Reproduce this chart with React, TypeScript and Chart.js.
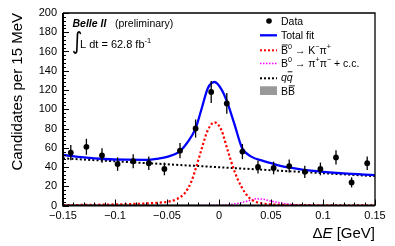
import React, { useEffect, useRef } from "react";
import { Chart, registerables } from "chart.js";

Chart.register(...registerables);

const FONT = "'Liberation Sans', Arial, Helvetica, sans-serif";

// Data points (15 MeV bins)
const binCenters = [-0.1425, -0.1275, -0.1125, -0.0975, -0.0825, -0.0675, -0.0525, -0.0375, -0.0225, -0.0075, 0.0075, 0.0225, 0.0375, 0.0525, 0.0675, 0.0825, 0.0975, 0.1125, 0.1275, 0.1425];
const counts = [55, 61, 52, 43, 46, 44, 38, 57, 80, 118, 106, 56, 40, 39, 41, 35, 38, 50, 24, 44];
const countErrors = [7.9, 8.3, 7.6, 7.0, 7.2, 7.0, 6.6, 8.0, 9.4, 11.4, 10.8, 7.9, 6.7, 6.6, 6.8, 6.3, 6.6, 7.5, 5.2, 7.0];

// Total fit
const totalFitX = [-0.15, -0.13, -0.11, -0.09, -0.07, -0.06, -0.049, -0.0372, -0.03, -0.0224, -0.017, -0.0106, -0.0042, 0.0022, 0.0077, 0.015, 0.0221, 0.031, 0.0423, 0.05, 0.06, 0.07, 0.08, 0.1, 0.12, 0.15];
const totalFitY = [52.5, 50, 48.3, 47.6, 47.5, 48.5, 50.8, 56.8, 66, 80.4, 99.5, 122, 128.3, 121, 108, 84, 60, 50.8, 46.4, 44, 41, 39, 37.3, 35, 33.3, 31.5];

// B0bar -> K- pi+ component
const signalX = [-0.15, -0.13, -0.11, -0.09, -0.07, -0.06, -0.05, -0.041, -0.033, -0.0266, -0.0218, -0.017, -0.0106, -0.0043, 0.0022, 0.0087, 0.015, 0.0215, 0.028, 0.0343, 0.0407, 0.05, 0.06, 0.07, 0.09, 0.12, 0.15];
const signalY = [0.4, 0.6, 0.9, 1.4, 2.1, 2.8, 3.8, 6.5, 12.7, 24.8, 40.4, 57.8, 78.6, 86.4, 78.6, 56, 35.2, 19.6, 9.2, 4.2, 2.3, 1.2, 0.7, 0.45, 0.3, 0.2, 0.15];

// B0 -> pi+ pi- component
const pipiX = [-0.02, 0, 0.01, 0.02, 0.03, 0.036, 0.043, 0.05, 0.06, 0.07, 0.08, 0.09, 0.1];
const pipiY = [0, 0.2, 0.9, 2.6, 5.4, 6.9, 6.4, 4.6, 2.5, 1.1, 0.4, 0.1, 0];

// continuum qqbar
const qqX = [-0.15, 0.15];
const qqY = [49, 30.5];

// BBbar
const bbX = [-0.15, 0, 0.15];
const bbY = [1.2, 0.9, 0.6];

const xTickValues = [-0.15, -0.1, -0.05, 0, 0.05, 0.1, 0.15];
const xTickLabels = ["\u22120.15", "\u22120.1", "\u22120.05", "0", "0.05", "0.1", "0.15"];
const yTickValues = [0, 20, 40, 60, 80, 100, 120, 140, 160, 180, 200];
const yTickLabels = ["0", "20", "40", "60", "80", "100", "120", "140", "160", "180", "200"];

const toXY = (xs: number[], ys: number[]) => xs.map((x, i) => ({ x, y: ys[i] }));

type Part = { t: string; sup?: boolean; over?: boolean; italic?: boolean; bold?: boolean };

function drawRich(ctx: CanvasRenderingContext2D, x: number, yBase: number, parts: Part[], size: number) {
  let cx = x;
  for (const p of parts) {
    const fs = p.sup ? size * 0.68 : size;
    ctx.font = `${p.italic ? "italic " : ""}${p.bold ? "bold " : ""}${fs}px ${FONT}`;
    const yy = p.sup ? yBase - size * 0.48 : yBase;
    ctx.fillText(p.t, cx, yy);
    const w = ctx.measureText(p.t).width;
    if (p.over) {
      ctx.save();
      ctx.lineWidth = 0.9;
      ctx.setLineDash([]);
      ctx.beginPath();
      ctx.moveTo(cx + 0.8, yy - size * 0.86);
      ctx.lineTo(cx + w - 0.3, yy - size * 0.86);
      ctx.stroke();
      ctx.restore();
    }
    cx += w;
  }
  return cx;
}

const rootPlugin = {
  id: "rootStyle",
  afterDatasetsDraw(chart: any) {
    const { ctx, chartArea: ca, scales } = chart;
    const xs = scales.x;
    const ys = scales.y;
    ctx.save();
    ctx.strokeStyle = "#000";
    ctx.fillStyle = "#000";

    // error bars
    ctx.lineWidth = 1.3;
    binCenters.forEach((c: number, i: number) => {
      const px = xs.getPixelForValue(c);
      const y1 = ys.getPixelForValue(counts[i] - countErrors[i]);
      const y2 = ys.getPixelForValue(counts[i] + countErrors[i]);
      ctx.beginPath();
      ctx.moveTo(px, y1);
      ctx.lineTo(px, y2);
      ctx.stroke();
    });

    // frame
    ctx.lineWidth = 1.3;
    ctx.beginPath();
    ctx.moveTo(ca.left, ca.top);
    ctx.lineTo(ca.right, ca.top);
    ctx.lineTo(ca.right, ca.bottom);
    ctx.stroke();
    ctx.lineWidth = 2;
    ctx.beginPath();
    ctx.moveTo(ca.left, ca.top);
    ctx.lineTo(ca.left, ca.bottom);
    ctx.lineTo(ca.right, ca.bottom);
    ctx.stroke();

    // inward ticks
    ctx.lineWidth = 1;
    for (let k = -15; k <= 15; k++) {
      const v = k / 100;
      const px = Math.round(xs.getPixelForValue(v)) + 0.5;
      const major = k % 5 === 0;
      ctx.beginPath();
      ctx.moveTo(px, ca.bottom);
      ctx.lineTo(px, ca.bottom - (major ? 6 : 3));
      ctx.stroke();
    }
    for (let v = 0; v <= 200; v += 4) {
      const py = Math.round(ys.getPixelForValue(v)) + 0.5;
      const major = v % 20 === 0;
      ctx.beginPath();
      ctx.moveTo(ca.left, py);
      ctx.lineTo(ca.left + (major ? 6 : 3), py);
      ctx.stroke();
    }

    // x axis title
    ctx.textBaseline = "alphabetic";
    ctx.textAlign = "left";
    const tsize = 15;
    const titleParts: Part[] = [{ t: "\u0394" }, { t: "E", italic: true }, { t: " [GeV]" }];
    let tw = 0;
    for (const p of titleParts) {
      ctx.font = `${p.italic ? "italic " : ""}${tsize}px ${FONT}`;
      tw += ctx.measureText(p.t).width;
    }
    drawRich(ctx, ca.right - tw, 237.5, titleParts, tsize);

    // annotation
    const asz = 10.5;
    drawRich(ctx, 72.5, 27.3, [{ t: "Belle II", italic: true, bold: true }], asz);
    drawRich(ctx, 115, 27.3, [{ t: "(preliminary)" }], asz);
    // integral sign
    ctx.save();
    ctx.font = `20px 'DejaVu Sans', ${FONT}`;
    const m = ctx.measureText("\u222B");
    const gh = m.actualBoundingBoxAscent + m.actualBoundingBoxDescent;
    const sc = 25 / gh;
    ctx.translate(72, 30);
    ctx.scale(1, sc);
    ctx.textBaseline = "alphabetic";
    ctx.fillText("\u222B", 0, m.actualBoundingBoxAscent);
    ctx.restore();
    drawRich(ctx, 80, 48.3, [{ t: "L dt = 62.8 fb" }, { t: "-1", sup: true }], 11);

    // legend
    const lx0 = 260, lx1 = 277, tx = 281, lsz = 10.5;
    const rows = [21, 35.3, 50.3, 63.5, 78.3, 90.7];
    // Data
    ctx.beginPath();
    ctx.arc(269, rows[0], 2.8, 0, Math.PI * 2);
    ctx.fill();
    // Total fit
    ctx.lineWidth = 2.3;
    ctx.strokeStyle = "#0000ff";
    ctx.beginPath(); ctx.moveTo(lx0, rows[1]); ctx.lineTo(lx1, rows[1]); ctx.stroke();
    // red
    ctx.strokeStyle = "#ff0000";
    ctx.lineWidth = 2;
    ctx.setLineDash([2, 2]);
    ctx.beginPath(); ctx.moveTo(lx0, rows[2]); ctx.lineTo(lx1, rows[2]); ctx.stroke();
    // magenta
    ctx.strokeStyle = "#ff00ff";
    ctx.lineWidth = 1.5;
    ctx.setLineDash([1.5, 1.5]);
    ctx.beginPath(); ctx.moveTo(lx0, rows[3]); ctx.lineTo(lx1, rows[3]); ctx.stroke();
    // qq
    ctx.strokeStyle = "#000";
    ctx.lineWidth = 2;
    ctx.setLineDash([2, 2]);
    ctx.beginPath(); ctx.moveTo(lx0, rows[4]); ctx.lineTo(lx1, rows[4]); ctx.stroke();
    ctx.setLineDash([]);
    // BB box
    ctx.fillStyle = "#999999";
    ctx.fillRect(lx0, 86.3, lx1 - lx0, 8.7);
    ctx.fillStyle = "#000";
    ctx.strokeStyle = "#000";

    const off = 3.7;
    drawRich(ctx, tx, rows[0] + off, [{ t: "Data" }], lsz);
    drawRich(ctx, tx, rows[1] + off, [{ t: "Total fit" }], lsz);
    drawRich(ctx, tx, rows[2] + off, [{ t: "B", over: true }, { t: "0", sup: true }, { t: " \u2192 K" }, { t: "\u2212", sup: true }, { t: "\u03C0" }, { t: "+", sup: true }], lsz);
    drawRich(ctx, tx, rows[3] + off, [{ t: "B" }, { t: "0", sup: true }, { t: " \u2192 \u03C0" }, { t: "+", sup: true }, { t: "\u03C0" }, { t: "\u2212", sup: true }, { t: " + c.c." }], lsz);
    drawRich(ctx, tx, rows[4] + 2.5, [{ t: "q", italic: true }, { t: "q", italic: true, over: true }], lsz);
    drawRich(ctx, tx, rows[5] + off + 0.5, [{ t: "B" }, { t: "B", over: true }], lsz);

    ctx.restore();
  },
};

export default function App() {
  const ref = useRef<HTMLCanvasElement | null>(null);
  useEffect(() => {
    if (!ref.current) return;
    const tickFont = { family: FONT, size: 11 };
    const chart = new Chart(ref.current, {
      type: "scatter",
      data: {
        datasets: [
          {
            label: "Data",
            data: toXY(binCenters, counts),
            pointRadius: 2.9,
            pointBackgroundColor: "#000",
            pointBorderWidth: 0,
            showLine: false,
            order: 0,
          },
          {
            label: "Total fit",
            data: toXY(totalFitX, totalFitY),
            showLine: true,
            borderColor: "#0000ff",
            borderWidth: 2.3,
            pointRadius: 0,
            cubicInterpolationMode: "monotone",
            order: 1,
          },
          {
            label: "B0bar -> K pi",
            data: toXY(signalX, signalY),
            showLine: true,
            borderColor: "#ff0000",
            borderWidth: 2.2,
            borderDash: [2.2, 2.2],
            pointRadius: 0,
            cubicInterpolationMode: "monotone",
            order: 2,
          },
          {
            label: "B0 -> pi pi",
            data: toXY(pipiX, pipiY),
            showLine: true,
            borderColor: "#ff00ff",
            borderWidth: 1.5,
            borderDash: [1.5, 1.5],
            pointRadius: 0,
            cubicInterpolationMode: "monotone",
            order: 3,
          },
          {
            label: "qq",
            data: toXY(qqX, qqY),
            showLine: true,
            borderColor: "#000",
            borderWidth: 2,
            borderDash: [2, 2.2],
            pointRadius: 0,
            order: 4,
          },
          {
            label: "BB",
            data: toXY(bbX, bbY),
            showLine: true,
            borderColor: "#999999",
            borderWidth: 0,
            backgroundColor: "#999999",
            fill: "origin",
            pointRadius: 0,
            order: 5,
          },
        ],
      },
      options: {
        responsive: false,
        animation: false,
        events: [],
        layout: { padding: { top: 13, right: 20, left: 0, bottom: 0 } },
        plugins: {
          legend: { display: false },
          tooltip: { enabled: false },
        },
        scales: {
          x: {
            type: "linear",
            min: -0.15,
            max: 0.15,
            grid: { display: false, drawTicks: false },
            border: { display: false },
            afterBuildTicks: (s: any) => {
              s.ticks = xTickValues.map((v) => ({ value: v }));
            },
            afterFit: (s: any) => {
              s.height = 40.5;
            },
            ticks: {
              autoSkip: false,
              maxRotation: 0,
              padding: 4,
              color: "#000",
              font: tickFont,
              callback: (_v: any, i: number) => xTickLabels[i],
            },
          },
          y: {
            type: "linear",
            min: 0,
            max: 200,
            grid: { display: false, drawTicks: false },
            border: { display: false },
            afterBuildTicks: (s: any) => {
              s.ticks = yTickValues.map((v) => ({ value: v }));
            },
            afterFit: (s: any) => {
              s.width = 63;
            },
            ticks: {
              autoSkip: false,
              padding: 6,
              color: "#000",
              font: tickFont,
              callback: (_v: any, i: number) => yTickLabels[i],
            },
            title: {
              display: true,
              text: "Candidates per 15 MeV",
              align: "end",
              color: "#000",
              font: { family: FONT, size: 15 },
              padding: { top: 9, bottom: 0 },
            },
          },
        },
      },
      plugins: [rootPlugin],
    } as any);
    return () => chart.destroy();
  }, []);
  return (
    <div style={{ position: "absolute", left: 0, top: 0, width: 395, height: 246, background: "#fff" }}>
      <canvas ref={ref} width={395} height={246} style={{ display: "block", width: 395, height: 246 }} />
    </div>
  );
}
